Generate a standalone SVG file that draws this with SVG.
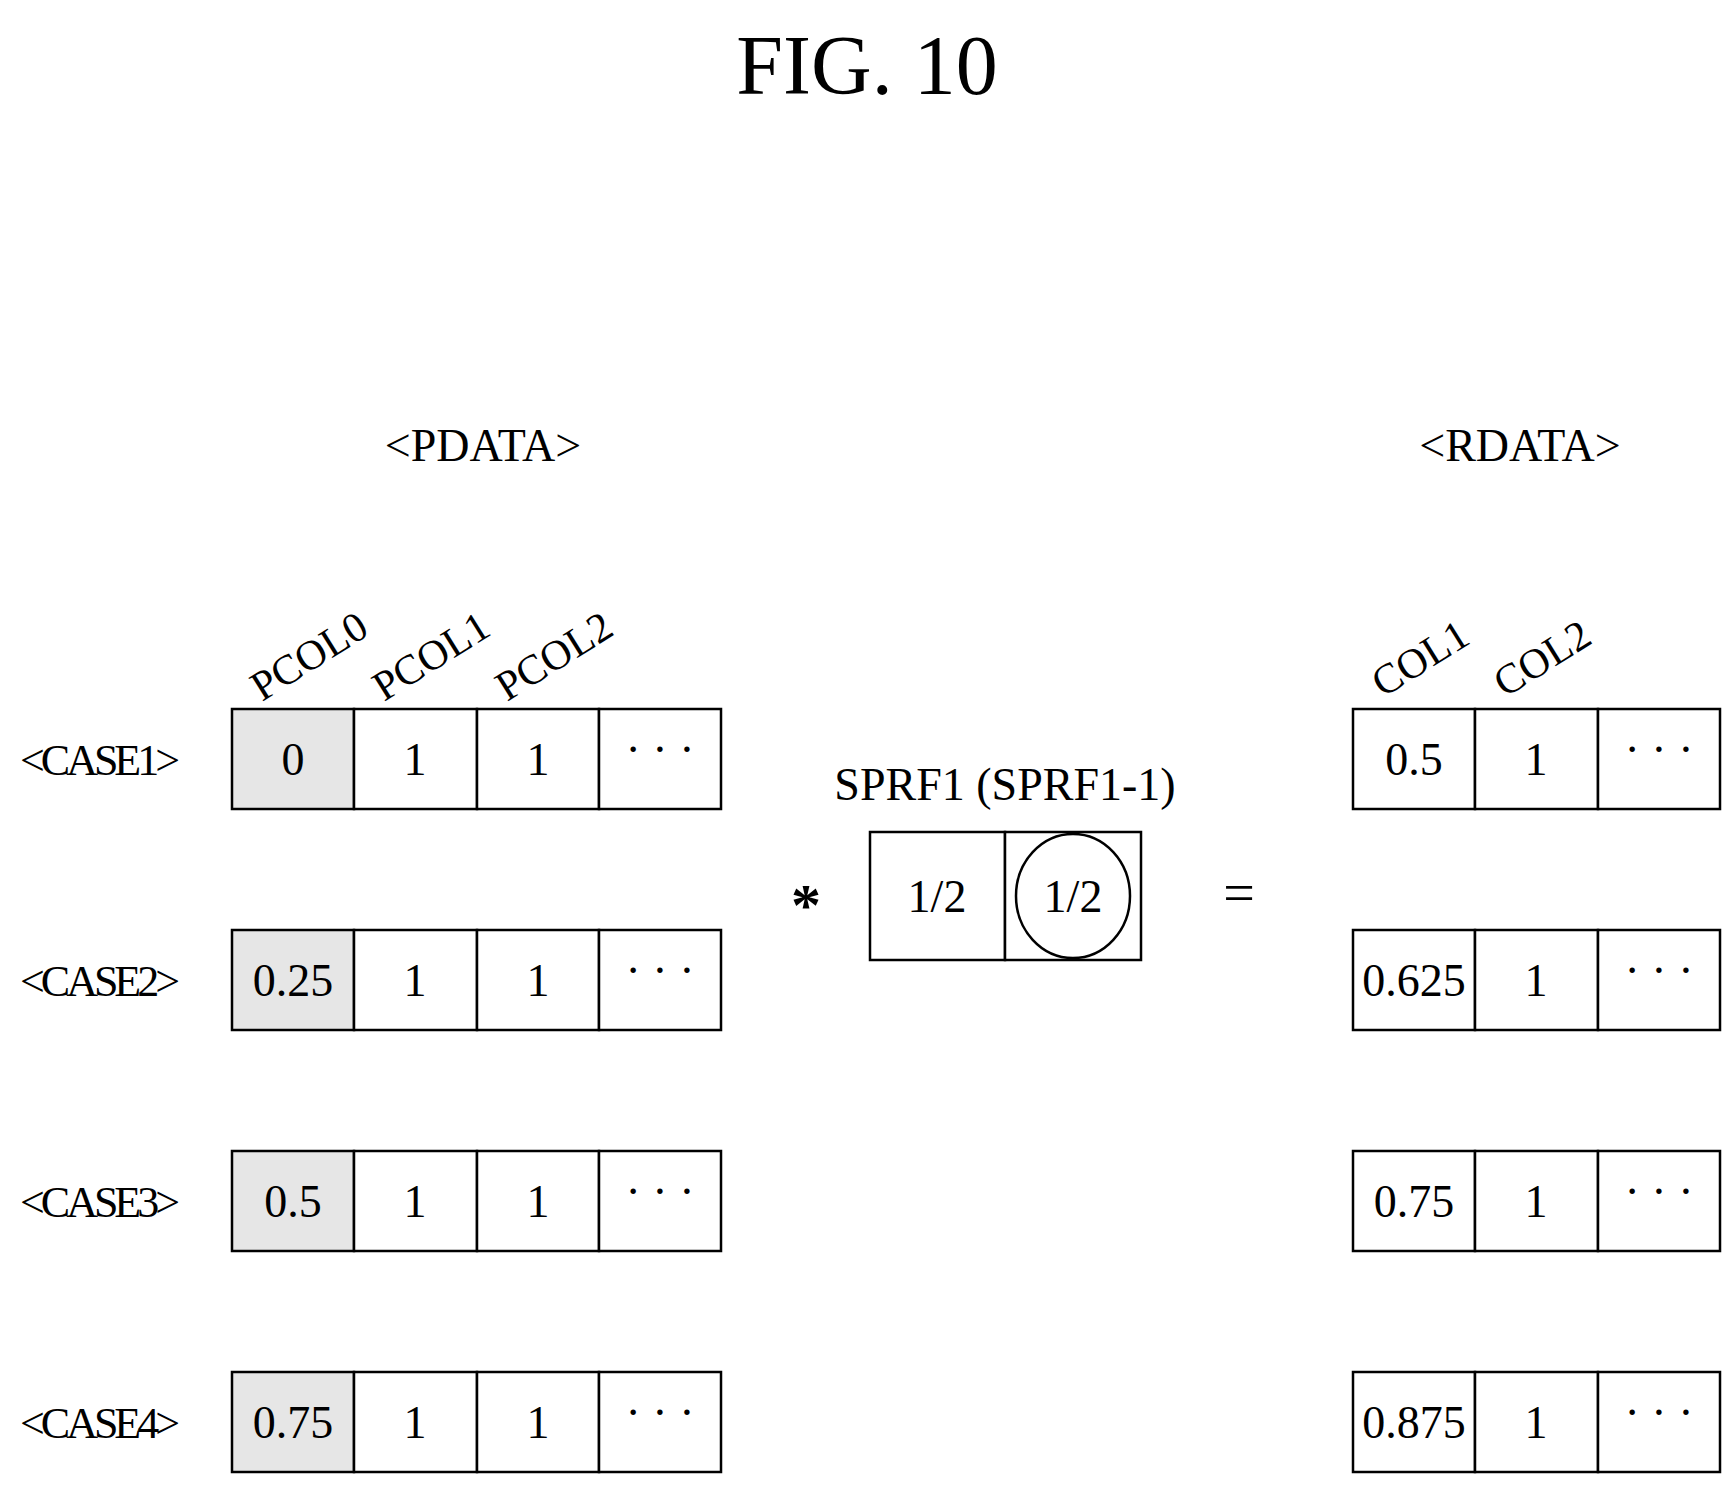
<svg xmlns="http://www.w3.org/2000/svg" width="1733" height="1488" viewBox="0 0 1733 1488">
<style>
text{font-family:"Liberation Serif",serif;fill:#000}
.c{font-size:46px;text-anchor:middle}
.l{font-size:44px}
.r{font-size:42px}
.cell{fill:#fff;stroke:#000;stroke-width:2.5}
.s{fill:#e6e6e6}
</style>
<rect width="1733" height="1488" style="fill:#fff;stroke:none"/>
<text x="867" y="94" font-size="84" text-anchor="middle">FIG. 10</text>
<text x="483" y="461" class="c">&lt;PDATA&gt;</text>
<text x="1520" y="461" class="c">&lt;RDATA&gt;</text>
<g transform="translate(262,702) rotate(-32)"><text class="r">PCOL0</text></g>
<g transform="translate(384,702) rotate(-32)"><text class="r">PCOL1</text></g>
<g transform="translate(507,702) rotate(-32)"><text class="r">PCOL2</text></g>
<g transform="translate(1383,698) rotate(-32)"><text class="r">COL1</text></g>
<g transform="translate(1505,698) rotate(-32)"><text class="r">COL2</text></g>
<g id="case1"><text x="20" y="775" class="l" textLength="160">&lt;CASE1&gt;</text>
<rect x="232" y="709" width="122" height="100" class="cell s"/><rect x="354" y="709" width="123" height="100" class="cell"/><rect x="477" y="709" width="122" height="100" class="cell"/><rect x="599" y="709" width="122" height="100" class="cell"/>
<text x="293" y="775" class="c">0</text><text x="415" y="775" class="c">1</text><text x="538" y="775" class="c">1</text><text x="660" y="765" class="c">· · ·</text></g>
<g id="case2"><text x="20" y="996" class="l" textLength="160">&lt;CASE2&gt;</text>
<rect x="232" y="930" width="122" height="100" class="cell s"/><rect x="354" y="930" width="123" height="100" class="cell"/><rect x="477" y="930" width="122" height="100" class="cell"/><rect x="599" y="930" width="122" height="100" class="cell"/>
<text x="293" y="996" class="c">0.25</text><text x="415" y="996" class="c">1</text><text x="538" y="996" class="c">1</text><text x="660" y="986" class="c">· · ·</text></g>
<g id="case3"><text x="20" y="1217" class="l" textLength="160">&lt;CASE3&gt;</text>
<rect x="232" y="1151" width="122" height="100" class="cell s"/><rect x="354" y="1151" width="123" height="100" class="cell"/><rect x="477" y="1151" width="122" height="100" class="cell"/><rect x="599" y="1151" width="122" height="100" class="cell"/>
<text x="293" y="1217" class="c">0.5</text><text x="415" y="1217" class="c">1</text><text x="538" y="1217" class="c">1</text><text x="660" y="1207" class="c">· · ·</text></g>
<g id="case4"><text x="20" y="1438" class="l" textLength="160">&lt;CASE4&gt;</text>
<rect x="232" y="1372" width="122" height="100" class="cell s"/><rect x="354" y="1372" width="123" height="100" class="cell"/><rect x="477" y="1372" width="122" height="100" class="cell"/><rect x="599" y="1372" width="122" height="100" class="cell"/>
<text x="293" y="1438" class="c">0.75</text><text x="415" y="1438" class="c">1</text><text x="538" y="1438" class="c">1</text><text x="660" y="1428" class="c">· · ·</text></g>
<g id="sprf1"><text x="1005" y="800" class="c">SPRF1 (SPRF1-1)</text>
<rect x="870" y="832" width="135" height="128" class="cell"/><rect x="1005" y="832" width="136" height="128" class="cell"/>
<ellipse cx="1073" cy="896" rx="57" ry="62" fill="none" stroke="#000" stroke-width="2.5"/>
<text x="937" y="912" class="c">1/2</text><text x="1073" y="912" class="c">1/2</text></g>
<text x="806" y="925" font-size="60" font-weight="bold" text-anchor="middle">*</text>
<text x="1239" y="912" font-size="56" text-anchor="middle">=</text>
<g id="r1"><rect x="1353" y="709" width="122" height="100" class="cell"/><rect x="1475" y="709" width="123" height="100" class="cell"/><rect x="1598" y="709" width="122" height="100" class="cell"/>
<text x="1414" y="775" class="c">0.5</text><text x="1536" y="775" class="c">1</text><text x="1659" y="765" class="c">· · ·</text></g>
<g id="r2"><rect x="1353" y="930" width="122" height="100" class="cell"/><rect x="1475" y="930" width="123" height="100" class="cell"/><rect x="1598" y="930" width="122" height="100" class="cell"/>
<text x="1414" y="996" class="c">0.625</text><text x="1536" y="996" class="c">1</text><text x="1659" y="986" class="c">· · ·</text></g>
<g id="r3"><rect x="1353" y="1151" width="122" height="100" class="cell"/><rect x="1475" y="1151" width="123" height="100" class="cell"/><rect x="1598" y="1151" width="122" height="100" class="cell"/>
<text x="1414" y="1217" class="c">0.75</text><text x="1536" y="1217" class="c">1</text><text x="1659" y="1207" class="c">· · ·</text></g>
<g id="r4"><rect x="1353" y="1372" width="122" height="100" class="cell"/><rect x="1475" y="1372" width="123" height="100" class="cell"/><rect x="1598" y="1372" width="122" height="100" class="cell"/>
<text x="1414" y="1438" class="c">0.875</text><text x="1536" y="1438" class="c">1</text><text x="1659" y="1428" class="c">· · ·</text></g>
<g id="connectors"/>
</svg>
